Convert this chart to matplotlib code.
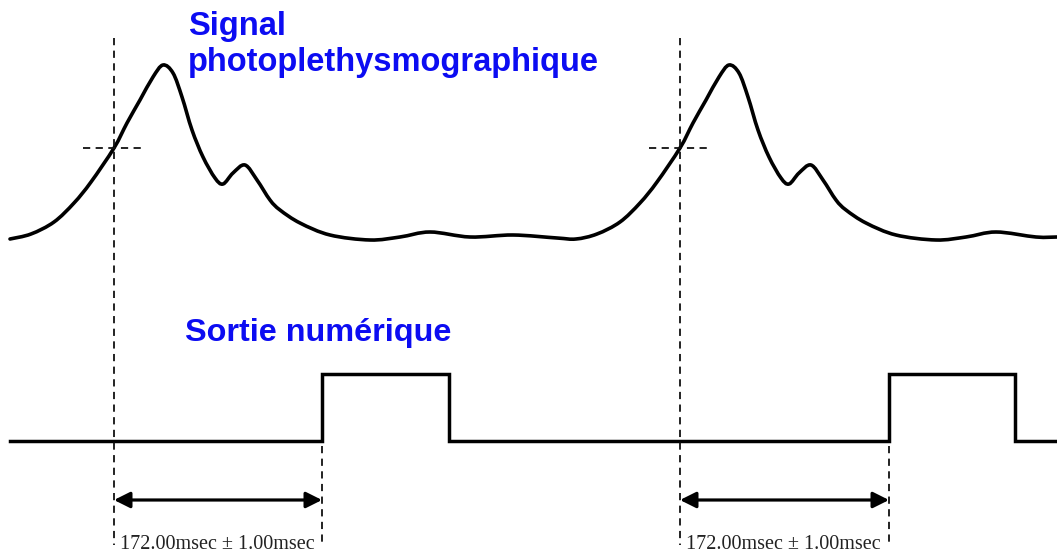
import matplotlib
matplotlib.use("Agg")
import matplotlib.pyplot as plt
from matplotlib.path import Path
from matplotlib.patches import PathPatch
import numpy as np

# --- data ---
# one cardiac cycle of the PPG signal, time relative to threshold crossing
# (screen-like units; amplitude measured downward)
beat_t = [-104, -83, -60, -40, -23, 0, 13, 26, 39, 49, 59, 68, 78, 89, 101, 109,
          119, 131, 143, 156, 166, 186, 216, 256, 286, 316, 356, 399, 443]
beat_y = [239, 234, 222, 203, 182, 148, 123, 100, 77, 65, 73, 97, 130, 157, 178, 184,
          173, 165, 180, 200, 210, 223, 235, 240, 237, 232, 237, 235, 238]
period = 566
beat_onsets = [114, 680]            # threshold crossing of each beat
signal_end = 1057
pulse_rise = [322, 889]             # digital output rising edges (onset + 172 ms)
pulse_fall = [449, 1015]
low, high = 441, 374
delay_label = "172.00msec \u00b1 1.00msec"

fig = plt.figure(figsize=(10.57, 5.55), dpi=100)
ax = fig.add_axes([0, 0, 1, 1])
ax.set_xlim(0, 1057)
ax.set_ylim(555, 0)
ax.axis("off")

# assemble the PPG trace from the beat template
xs, ys = [], []
for on in beat_onsets:
    for t, y in zip(beat_t, beat_y):
        x = on + t
        if x <= signal_end:
            xs.append(x); ys.append(y)
xs.append(signal_end); ys.append(ys[-1])
pts = np.column_stack([xs, ys]).astype(float)


def smooth_path(p):
    verts = [p[0]]
    codes = [Path.MOVETO]
    n = len(p)
    for i in range(n - 1):
        p0 = p[i - 1] if i > 0 else p[i]
        p1, p2 = p[i], p[i + 1]
        p3 = p[i + 2] if i + 2 < n else p[i + 1]
        c1 = p1 + (p2 - p0) / 6.0
        c2 = p2 - (p3 - p1) / 6.0
        verts += [c1, c2, p2]
        codes += [Path.CURVE4] * 3
    return Path(verts, codes)


ax.add_patch(PathPatch(smooth_path(pts), fill=False, edgecolor="black", lw=2.6,
                       joinstyle="round", capstyle="round", transform=ax.transData))

# digital output
px = [10]
py = [low]
for r, f in zip(pulse_rise, pulse_fall):
    px += [r, r, f, f]
    py += [low, high, high, low]
px.append(1057); py.append(low)
ax.plot(px, py, color="black", lw=2.5, solid_joinstyle="miter")

dash = dict(color="#111111", lw=1.3, linestyle=(0, (4, 3)))
for on, r in zip(beat_onsets, pulse_rise):
    ax.plot([on, on], [38, 545], **dash)
    ax.plot([r, r], [446, 545], **dash)
    ax.plot([on - 31, on + 27], [148, 148], **dash)
    ax.annotate("", xy=(on, 500), xytext=(r, 500),
                arrowprops=dict(arrowstyle="<|-|>", color="black", lw=2.3,
                                mutation_scale=24, shrinkA=0, shrinkB=0))
    ax.text(on + 6, 549, delay_label, fontsize=14.5, family="Liberation Serif",
            ha="left", va="baseline", color="#222222")

blue = "#0c0cf2"
ax.text(188, 35, "Signal", fontsize=23.5, fontweight="bold",
        family="Liberation Sans", color=blue, ha="left", va="baseline")
ax.text(188, 71, "photoplethysmographique", fontsize=23.5, fontweight="bold",
        family="Liberation Sans", color=blue, ha="left", va="baseline")
ax.text(185, 341, "Sortie numérique", fontsize=23.3, fontweight="bold",
        family="Liberation Sans", color=blue, ha="left", va="baseline")

fig.savefig("out.png", dpi=100, facecolor="white")
